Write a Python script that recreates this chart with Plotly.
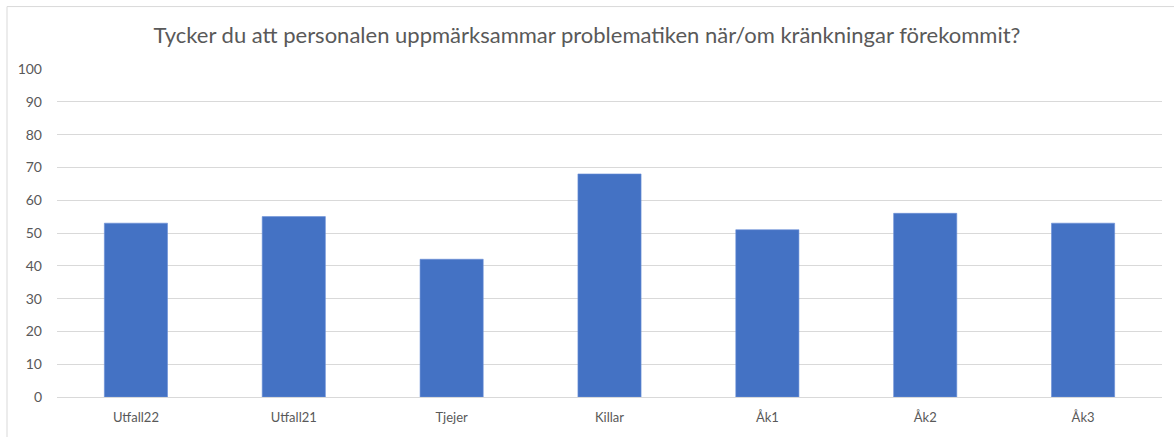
import plotly.graph_objects as go

categories = ["Utfall22", "Utfall21", "Tjejer", "Killar", "Åk1", "Åk2", "Åk3"]
values = [53, 55, 42, 68, 51, 56, 53]
y_ticks = [0, 10, 20, 30, 40, 50, 60, 70, 80, 90, 100]
title_text = "Tycker du att personalen uppmärksammar problematiken när/om kränkningar förekommit?"

W, H = 1174, 437
ml, mr, mt, mb = 57, 12, 69, 37
pw = W - ml - mr
ph = H - mt - mb

fig = go.Figure(go.Bar(
    x=categories, y=values,
    marker=dict(color="#4472C4", line=dict(color="#6A8FD6", width=0.6)),
    width=0.4,
))

def px_x(p):
    return (p - ml) / pw

def px_y(p):
    return (H - mb - p) / ph

fig.update_layout(
    width=W, height=H,
    margin=dict(l=ml, r=mr, t=mt, b=mb),
    paper_bgcolor="white", plot_bgcolor="white",
    showlegend=False,
    font=dict(family="Lato, Open Sans, sans-serif", color="#595959"),
    title=dict(text=title_text, x=0.5, xanchor="center", y=1 - 35 / H, yanchor="middle",
               font=dict(size=22, color="#595959", family="Lato, Open Sans, sans-serif")),
    xaxis=dict(showgrid=False, showline=False, ticks="", tickfont=dict(size=13, color="#595959"),
               ticklabelstandoff=11),
    yaxis=dict(range=[0, 100], tickvals=y_ticks, showgrid=True, gridcolor="#D9D9D9", gridwidth=1,
               zeroline=True, zerolinecolor="#D9D9D9", zerolinewidth=1,
               tickfont=dict(size=14, color="#595959"), ticks="", ticklabelstandoff=14),
    shapes=[
        dict(type="line", xref="paper", yref="paper", x0=px_x(7), x1=px_x(W + 5), y0=px_y(6), y1=px_y(6),
             line=dict(color="#D9D9D9", width=1)),
        dict(type="line", xref="paper", yref="paper", x0=px_x(7), x1=px_x(7), y0=px_y(6), y1=px_y(H + 5),
             line=dict(color="#D9D9D9", width=1)),
    ],
)

fig.write_html("out.html", config={"displayModeBar": False},
               post_script="document.body.style.margin='0';document.body.style.padding='0';")
